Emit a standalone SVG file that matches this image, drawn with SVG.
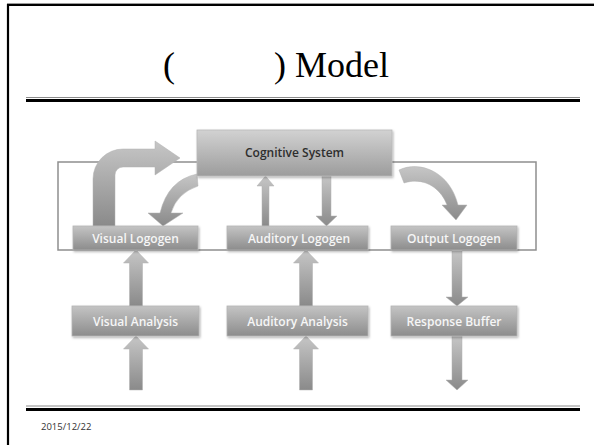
<svg xmlns="http://www.w3.org/2000/svg" width="594" height="445" viewBox="0 0 594 445">
<defs>
<linearGradient id="gBox" x1="0" y1="0" x2="0" y2="1">
<stop offset="0" stop-color="#c4c4c4"/><stop offset="1" stop-color="#8c8c8c"/>
</linearGradient>
<linearGradient id="gCog" x1="0" y1="0" x2="0" y2="1">
<stop offset="0" stop-color="#d2d2d2"/><stop offset="1" stop-color="#9c9c9c"/>
</linearGradient>
<linearGradient id="gArr" x1="0" y1="0" x2="0" y2="1">
<stop offset="0" stop-color="#c6c6c6"/><stop offset="1" stop-color="#8a8a8a"/>
</linearGradient>
<filter id="sh" x="-10%" y="-20%" width="130%" height="160%">
<feDropShadow dx="1" dy="1.5" stdDeviation="1" flood-color="#000" flood-opacity="0.3"/>
</filter>
</defs>
<style>
.box{fill:url(#gBox);stroke:#b4b4b4;stroke-width:0.8;filter:url(#sh)}
.cog{fill:url(#gCog);stroke:#b8b8b8;stroke-width:0.8;filter:url(#sh)}
.lbl{font-family:"Open Sans","Liberation Sans",sans-serif;font-size:12px;font-weight:600;fill:#f6f6f6;text-anchor:middle}
.clbl{font-family:"Open Sans","Liberation Sans",sans-serif;font-size:12px;font-weight:600;fill:#2e2e2e;text-anchor:middle}
.arr{fill:url(#gArr);stroke:#b0b0b0;stroke-width:0.5}
.title{font-family:"Liberation Serif","Times New Roman",serif;font-size:36px;fill:#000}
</style>
<rect width="594" height="445" fill="#fff"/>
<line x1="7" y1="3.5" x2="594" y2="3.5" stroke="#9a9a9a" stroke-width="1"/>
<path d="M8 445 V5 H594" fill="none" stroke="#000" stroke-width="2.2"/>
<text class="title" x="163" y="77">(</text>
<text class="title" x="274" y="77">) Model</text>
<line x1="26" y1="97.5" x2="580" y2="97.5" stroke="#8a8a8a" stroke-width="1"/>
<line x1="26" y1="100.5" x2="580" y2="100.5" stroke="#000" stroke-width="3"/>
<line x1="26" y1="406" x2="580" y2="406" stroke="#8a8a8a" stroke-width="1"/>
<line x1="26" y1="409.5" x2="580" y2="409.5" stroke="#000" stroke-width="3"/>
<text x="41" y="430" font-family="'Open Sans','Liberation Sans',sans-serif" font-size="9.5" fill="#333">2015/12/22</text>
<g id="connectors">
<rect x="58" y="162" width="478" height="88" fill="none" stroke="#8e8e8e" stroke-width="1.5"/>
<path class="arr" d="M93 226 V179 A30 30 0 0 1 123 149 H155 V141 L180 158 L155 175 V167 H123 A8 8 0 0 0 115 175 V226 Z"/>
<path class="arr" d="M197 174 Q168 180 160 213 H148 L163 226 L183 213 H171 Q177 193 198 186 Z"/>
<path class="arr" d="M399 170 C420 160 450 172 458 205 H467 L456 220 L442 205 H447 C440 186 422 177 404 183 Z"/>
<path class="arr" d="M265.5 176 L274 186 H269 V226 H262 V186 H257 Z"/>
<path class="arr" d="M326.5 226 L337 216 H331 V176 H322 V216 H316 Z"/>
<path class="arr" d="M136 250 L148.5 263 H142.5 V306 H129.5 V263 H123.5 Z"/>
<path class="arr" d="M136 336 L148.5 349 H142.5 V390 H129.5 V349 H123.5 Z"/>
<path class="arr" d="M306 250 L318.5 263 H312.5 V306 H299.5 V263 H293.5 Z"/>
<path class="arr" d="M306 336 L318.5 349 H312.5 V390 H299.5 V349 H293.5 Z"/>
<path class="arr" d="M457 306 L468 297 H462 V250 H452 V297 H446 Z"/>
<path class="arr" d="M457 390 L468 380 H462 V336 H452 V380 H446 Z"/>
</g>
<g id="cognitive"><rect class="cog" x="197" y="130" width="195" height="46"/><text class="clbl" x="294.5" y="157">Cognitive System</text></g>
<g id="visual-logogen"><rect class="box" x="73" y="226" width="125" height="24"/><text class="lbl" x="135.5" y="243">Visual Logogen</text></g>
<g id="auditory-logogen"><rect class="box" x="227" y="226" width="141" height="24"/><text class="lbl" x="299" y="243">Auditory Logogen</text></g>
<g id="output-logogen"><rect class="box" x="391" y="226" width="126" height="24"/><text class="lbl" x="454" y="243">Output Logogen</text></g>
<g id="visual-analysis"><rect class="box" x="72" y="306" width="127" height="30"/><text class="lbl" x="135.5" y="325.5">Visual Analysis</text></g>
<g id="auditory-analysis"><rect class="box" x="227" y="306" width="141" height="30"/><text class="lbl" x="297.5" y="325.5">Auditory Analysis</text></g>
<g id="response-buffer"><rect class="box" x="391" y="306" width="126" height="30"/><text class="lbl" x="454" y="325.5">Response Buffer</text></g>
</svg>
